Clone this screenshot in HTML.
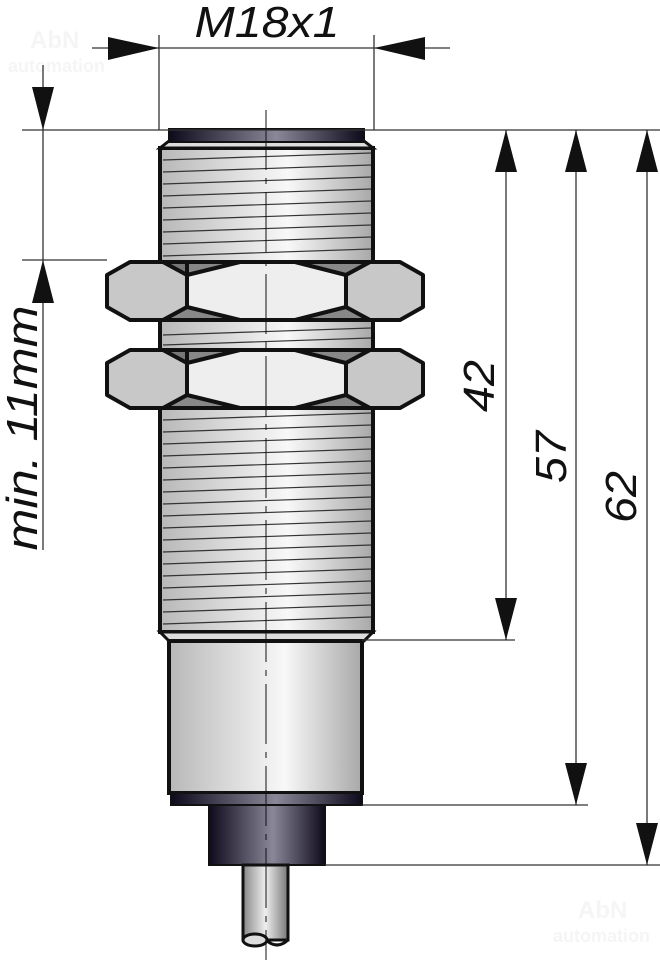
<!DOCTYPE html>
<html><head><meta charset="utf-8"><style>html,body{margin:0;padding:0;background:#fff}svg{display:block}</style></head>
<body>
<svg width="660" height="964" viewBox="0 0 660 964" xmlns="http://www.w3.org/2000/svg">
<defs>
<linearGradient id="met" x1="0" x2="1" y1="0" y2="0">
<stop offset="0" stop-color="#b8b8b8"/><stop offset="0.6" stop-color="#f8f8f8"/><stop offset="1" stop-color="#a8a8a8"/></linearGradient>
<linearGradient id="dark" x1="0" x2="1" y1="0" y2="0">
<stop offset="0" stop-color="#0e0a1c"/><stop offset="0.55" stop-color="#8a8898"/><stop offset="1" stop-color="#0e0a1c"/></linearGradient>
<linearGradient id="cab" x1="0" x2="1"><stop offset="0" stop-color="#888"/><stop offset="0.5" stop-color="#eee"/><stop offset="1" stop-color="#777"/></linearGradient>
</defs>
<g fill="#f5f5f5" font-family="Liberation Sans, sans-serif" font-weight="bold"><text x="30" y="48" font-size="24">AbN</text><text x="8" y="72" font-size="18">automation</text>
<text x="578" y="918" font-size="24">AbN</text><text x="553" y="942" font-size="18">automation</text></g>
<rect x="160" y="148" width="213" height="484" fill="url(#met)" stroke="#111" stroke-width="4"/>
<g stroke="#333" stroke-width="1.2">
<path d="M163 160 L371 153 M163 172 L371 165 M163 184 L371 177 M163 196 L371 189 M163 208 L371 201 M163 220 L371 213 M163 232 L371 225 M163 244 L371 237 M163 256 L371 249 M163 335 L371 328 M163 345 L371 338"/>
<path d="M163 420 L371 413 M163 432 L371 425 M163 444 L371 437 M163 456 L371 449 M163 468 L371 461 M163 480 L371 473 M163 492 L371 485 M163 504 L371 497 M163 516 L371 509 M163 528 L371 521 M163 540 L371 533 M163 552 L371 545 M163 564 L371 557 M163 576 L371 569 M163 588 L371 581 M163 600 L371 593 M163 612 L371 605 M163 624 L371 617"/>
</g>
<path d="M160 632 L169 641 L364 641 L373 632 Z" fill="#ddd" stroke="#111" stroke-width="3"/>
<path d="M160 148 L169 141 L364 141 L373 148 Z" fill="#ddd" stroke="#111" stroke-width="3"/>
<rect x="169" y="129" width="195" height="13" fill="url(#dark)" stroke="#111" stroke-width="2"/>
<g stroke="#111" stroke-width="4" stroke-linejoin="round">
<g id="nut">
<path d="M163 262 L370 262 L370 320 L163 320 Z" fill="#777"/>
<path d="M187 262 L370 262 L346 275 L187 275 Z M187 307 L346 307 L370 320 L163 320 Z" fill="#888"/>
<path d="M107 275 L130 262 L163 262 L187 275 L187 307 L163 320 L130 320 L107 307 Z" fill="#c8c8c8"/>
<path d="M187 275 L240 262 L295 262 L346 275 L346 307 L295 320 L240 320 L187 307 Z" fill="#eeeeee"/>
<path d="M346 275 L370 262 L400 262 L423 275 L423 307 L400 320 L370 320 L346 307 Z" fill="#c8c8c8"/>
</g>
<use href="#nut" y="88"/>
</g>
<rect x="169" y="641" width="193" height="152" fill="url(#met)" stroke="#111" stroke-width="4"/>
<rect x="171" y="793" width="191" height="12" fill="url(#dark)" stroke="#111" stroke-width="2"/>
<rect x="209" y="805" width="116" height="60" fill="url(#dark)" stroke="#111" stroke-width="2"/>
<rect x="243" y="865" width="45" height="75" fill="url(#cab)" stroke="#111" stroke-width="3"/>
<ellipse cx="255" cy="940" rx="12" ry="6" fill="#ddd" stroke="#111" stroke-width="3"/>
<path d="M266 940 Q277 950 288 940" fill="none" stroke="#111" stroke-width="3"/>
<path d="M266 110 L266 960" stroke="#111" stroke-width="1" stroke-dasharray="60 8 6 8"/>
<g stroke="#333" stroke-width="1.3" fill="none">
<path d="M22 130 L660 130 M22 260 L107 260 M159 35 L159 130 M374 35 L374 130 M92 48 L450 48"/>
<path d="M43 65 L43 550 M506 130 L506 640 M362 640 L515 640 M576 130 L576 805 M362 805 L588 805 M647 130 L647 865 M325 865 L660 865"/>
</g>
<g fill="#111">
<path d="M159 48 L108 37 L108 60 Z M374 48 L425 37 L425 60 Z"/>
<path d="M43 130 L32 87 L54 87 Z M43 260 L32 303 L54 303 Z"/>
<path d="M506 130 L495 172 L517 172 Z M506 640 L495 598 L517 598 Z"/>
<path d="M576 130 L565 172 L587 172 Z M576 805 L565 763 L587 763 Z"/>
<path d="M647 130 L636 172 L658 172 Z M647 865 L636 823 L658 823 Z"/>
</g>
<g font-family="Liberation Sans, sans-serif" font-style="italic" font-size="44" fill="#111">
<text x="267" y="37" text-anchor="middle" textLength="145" lengthAdjust="spacingAndGlyphs">M18x1</text>
<text transform="translate(37 428) rotate(-90)" text-anchor="middle" textLength="245" lengthAdjust="spacingAndGlyphs">min. 11mm</text>
<text transform="translate(494 386) rotate(-90)" text-anchor="middle" textLength="52" lengthAdjust="spacingAndGlyphs">42</text>
<text transform="translate(566 457) rotate(-90)" text-anchor="middle" textLength="52" lengthAdjust="spacingAndGlyphs">57</text>
<text transform="translate(636 497) rotate(-90)" text-anchor="middle" textLength="52" lengthAdjust="spacingAndGlyphs">62</text>
</g>
</svg>
</body></html>
